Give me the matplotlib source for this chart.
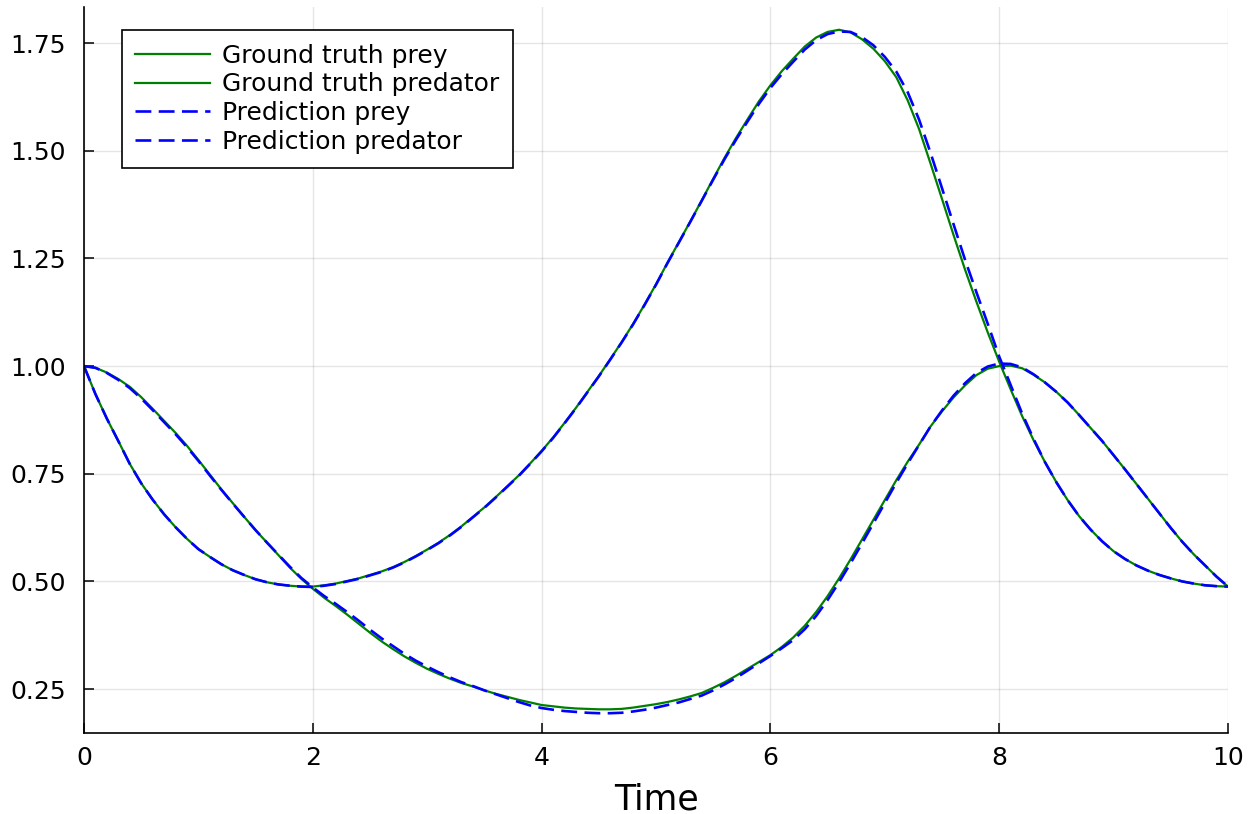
import numpy as np
import matplotlib
matplotlib.use("Agg")
import matplotlib.pyplot as plt

# =========================
# DATA (step 0.1)
# =========================
t = [round(0.1 * i, 1) for i in range(101)]

true_prey = [1.000, 0.935, 0.878, 0.826, 0.773, 0.728, 0.690, 0.656, 0.626, 0.599,
             0.575, 0.557, 0.540, 0.526, 0.515, 0.505, 0.498, 0.493, 0.490, 0.488,
             0.488, 0.491, 0.495, 0.501, 0.507, 0.515, 0.523, 0.533, 0.545, 0.559,
             0.574, 0.590, 0.608, 0.628, 0.650, 0.672, 0.696, 0.721, 0.746, 0.774,
             0.803, 0.834, 0.868, 0.903, 0.940, 0.977, 1.016, 1.056, 1.098, 1.143,
             1.190, 1.240, 1.288, 1.336, 1.385, 1.435, 1.484, 1.530, 1.573, 1.615,
             1.652, 1.685, 1.714, 1.742, 1.763, 1.776, 1.781, 1.775, 1.759, 1.737,
             1.708, 1.671, 1.617, 1.550, 1.470, 1.388, 1.305, 1.225, 1.150, 1.078,
             1.010, 0.946, 0.884, 0.828, 0.777, 0.730, 0.688, 0.651, 0.620, 0.593,
             0.570, 0.552, 0.537, 0.525, 0.515, 0.507, 0.500, 0.495, 0.491, 0.489,
             0.488]

true_pred = [1.000, 0.996, 0.985, 0.970, 0.952, 0.928, 0.901, 0.873, 0.845, 0.815,
             0.782, 0.748, 0.714, 0.682, 0.650, 0.619, 0.590, 0.561, 0.532, 0.506,
             0.483, 0.462, 0.443, 0.423, 0.402, 0.381, 0.361, 0.343, 0.326, 0.311,
             0.297, 0.285, 0.274, 0.264, 0.256, 0.247, 0.239, 0.232, 0.225, 0.219,
             0.213, 0.210, 0.207, 0.205, 0.204, 0.203, 0.203, 0.204, 0.207, 0.211,
             0.215, 0.220, 0.226, 0.233, 0.241, 0.253, 0.266, 0.281, 0.297, 0.313,
             0.329, 0.348, 0.370, 0.397, 0.429, 0.466, 0.507, 0.551, 0.597, 0.643,
             0.689, 0.735, 0.778, 0.818, 0.860, 0.895, 0.927, 0.955, 0.979, 0.994,
             1.000, 1.001, 0.995, 0.980, 0.962, 0.940, 0.915, 0.886, 0.856, 0.826,
             0.793, 0.760, 0.726, 0.692, 0.658, 0.624, 0.592, 0.563, 0.537, 0.511,
             0.488]

nn_prey = [1.000, 0.935, 0.878, 0.826, 0.773, 0.728, 0.690, 0.656, 0.626, 0.599,
           0.575, 0.557, 0.540, 0.526, 0.515, 0.505, 0.498, 0.493, 0.490, 0.488,
           0.487, 0.490, 0.494, 0.500, 0.506, 0.514, 0.522, 0.532, 0.544, 0.558,
           0.573, 0.589, 0.607, 0.627, 0.649, 0.671, 0.695, 0.720, 0.745, 0.773,
           0.802, 0.833, 0.867, 0.902, 0.939, 0.976, 1.015, 1.055, 1.097, 1.142,
           1.189, 1.239, 1.287, 1.335, 1.384, 1.433, 1.481, 1.526, 1.568, 1.609,
           1.646, 1.678, 1.707, 1.735, 1.757, 1.771, 1.777, 1.776, 1.764, 1.745,
           1.718, 1.684, 1.636, 1.572, 1.495, 1.413, 1.330, 1.248, 1.172, 1.098,
           1.022, 0.956, 0.890, 0.831, 0.777, 0.730, 0.688, 0.651, 0.620, 0.593,
           0.570, 0.552, 0.537, 0.525, 0.515, 0.507, 0.500, 0.495, 0.491, 0.489,
           0.488]

nn_pred = [1.000, 0.996, 0.984, 0.968, 0.949, 0.925, 0.898, 0.870, 0.842, 0.812,
           0.780, 0.746, 0.713, 0.681, 0.650, 0.619, 0.590, 0.562, 0.534, 0.508,
           0.486, 0.466, 0.448, 0.429, 0.409, 0.388, 0.368, 0.350, 0.332, 0.316,
           0.302, 0.289, 0.277, 0.266, 0.257, 0.247, 0.238, 0.229, 0.220, 0.212,
           0.206, 0.202, 0.199, 0.197, 0.195, 0.194, 0.194, 0.195, 0.198, 0.202,
           0.207, 0.213, 0.219, 0.227, 0.235, 0.247, 0.261, 0.276, 0.293, 0.310,
           0.327, 0.345, 0.364, 0.389, 0.420, 0.457, 0.498, 0.542, 0.588, 0.635,
           0.682, 0.729, 0.774, 0.817, 0.860, 0.897, 0.931, 0.960, 0.984, 0.999,
           1.006, 1.005, 0.997, 0.981, 0.962, 0.940, 0.915, 0.886, 0.856, 0.826,
           0.793, 0.760, 0.726, 0.692, 0.658, 0.624, 0.592, 0.563, 0.537, 0.511,
           0.488]

labels = ["Ground truth prey", "Ground truth predator",
          "Prediction prey", "Prediction predator"]

# =========================
# PLOT
# =========================
fig = plt.figure(figsize=(12.48, 8.14), dpi=100)
ax = fig.add_axes([0.0673, 0.0995, 0.9167, 0.8925])

lw_true = 1.6
lw_nn = 1.9
dash = (0, (6.0, 2.8))

ax.plot(t, true_prey, color="green", lw=lw_true, label=labels[0])
ax.plot(t, true_pred, color="green", lw=lw_true, label=labels[1])
ax.plot(t, nn_prey, color="blue", lw=lw_nn, ls=dash, label=labels[2])
ax.plot(t, nn_pred, color="blue", lw=lw_nn, ls=dash, label=labels[3])

ax.set_xlim(0, 10)
ax.set_ylim(0.148, 1.835)
ax.set_xticks([0, 2, 4, 6, 8, 10])
ax.set_yticks([0.25, 0.50, 0.75, 1.00, 1.25, 1.50, 1.75])
ax.set_yticklabels(["0.25", "0.50", "0.75", "1.00", "1.25", "1.50", "1.75"])

ax.grid(True, color="black", alpha=0.1, lw=1.0)
ax.set_axisbelow(True)
for side in ["top", "right"]:
    ax.spines[side].set_visible(False)
for side in ["left", "bottom"]:
    ax.spines[side].set_linewidth(1.2)

ax.tick_params(direction="in", length=7, width=1.1, labelsize=18)
ax.tick_params(axis="y", pad=13)
ax.tick_params(axis="x", pad=9)

ax.set_xlabel("Time", fontsize=25, labelpad=9)

leg = ax.legend(loc="upper left", bbox_to_anchor=(0.033, 0.968),
                borderaxespad=0, fontsize=18, frameon=True, fancybox=False,
                edgecolor="black", framealpha=1, handlelength=3.0,
                handletextpad=0.45, labelspacing=0.19, borderpad=0.55)
leg.get_frame().set_linewidth(1.2)

fig.savefig("out.png", dpi=100)
